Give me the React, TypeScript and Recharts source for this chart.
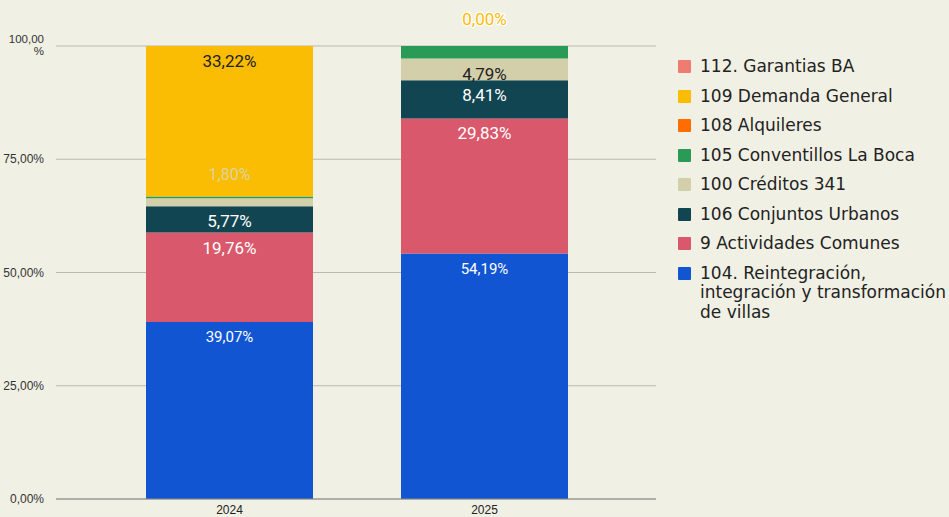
import { Bar, BarChart, CartesianGrid, LabelList, XAxis, YAxis } from "recharts";

const years = ["2024", "2025"];

const seriesNames = [
  "104. Reintegración, integración y transformación de villas",
  "9 Actividades Comunes",
  "106 Conjuntos Urbanos",
  "100 Créditos 341",
  "105 Conventillos La Boca",
  "108 Alquileres",
  "109 Demanda General",
  "112. Garantias BA",
];

const reintegracion = [39.07, 54.19];
const actividades = [19.76, 29.83];
const conjuntos = [5.77, 8.41];
const creditos = [1.8, 4.79];
const conventillos = [0.38, 2.76];
const alquileres = [0, 0.02];
const demanda = [33.22, 0];
const garantias = [0, 0];

const yTicks = [0, 25, 50, 75, 100];

const COLORS = ["#1155d2", "#d9586b", "#124552", "#d3cfab", "#2a9b57", "#ff6d00", "#fbbc04", "#f07b72"];
const LABEL_COLORS = ["#fff", "#fff", "#fff", "#222", "#fff", "#222", "#222", "#222"];
const keys = ["s0", "s1", "s2", "s3", "s4", "s5", "s6", "s7"];
const allValues = [reintegracion, actividades, conjuntos, creditos, conventillos, alquileres, demanda, garantias];

const data = years.map((year, i) => {
  const row: Record<string, string | number> = { year };
  allValues.forEach((vals, s) => (row[keys[s]] = vals[i]));
  return row;
});

const pct = (v: number) => v.toFixed(2).replace(".", ",") + "%";

function makeLabel(s: number) {
  return (props: any) => {
    const { x, y, width, value, index } = props;
    const v = Number(value);
    const cx = Number(x) + Number(width) / 2;
    const top = Number(y);
    if (s === 3 && index === 0) {
      return (
        <text x={cx} y={top - 18} textAnchor="middle" fill="#dcd49c" fontSize={16} fontFamily="Roboto">
          {pct(v)}
        </text>
      );
    }
    // 2025 "109 Demanda General" is 0%, its label sits above the top of the column
    if (s === 4 && index === 1) {
      return (
        <text x={cx} y={top - 21} textAnchor="middle" fill="#fbbc04" stroke="#fff" strokeWidth={2.5}
          paintOrder="stroke" fontSize={17} fontFamily="Roboto">
          {pct(demanda[1])}
        </text>
      );
    }
    if (v < 4) return null;
    const small = s === 0;
    return (
      <text x={cx} y={top + (small ? 20 : 21)} textAnchor="middle" fill={LABEL_COLORS[s]}
        fontSize={small ? 15 : 17} fontFamily="Roboto">
        {pct(v)}
      </text>
    );
  };
}

function YTick(props: any) {
  const { x, y, payload } = props;
  if (payload.value === 100) {
    return (
      <text x={x} y={y} textAnchor="end" fill="#333" fontSize={11.5} fontFamily="Liberation Sans, Arial">
        <tspan x={x} dy={-3}>100,00</tspan>
        <tspan x={x} dy={12}>%</tspan>
      </text>
    );
  }
  return (
    <text x={x} y={y + 4} textAnchor="end" fill="#333" fontSize={12} fontFamily="Liberation Sans, Arial">
      {pct(payload.value)}
    </text>
  );
}

const legendOrder = [7, 6, 5, 4, 3, 2, 1, 0];

export default function App() {
  return (
    <div style={{ position: "absolute", left: 0, top: 0, width: 949, height: 517, background: "#f1f0e4" }}>
      <BarChart width={949} height={517} data={data} margin={{ top: 46, right: 293, bottom: 0, left: 0 }}>
        <CartesianGrid vertical={false} stroke="#b9b9b0" />
        <XAxis dataKey="year" tickLine={false} axisLine={{ stroke: "#8a8a85" }} padding={{ left: 46, right: 44 }}
          tick={{ fill: "#222", fontSize: 12, fontFamily: "Liberation Sans, Arial", dy: 0 }} tickMargin={0} height={18} />
        <YAxis domain={[0, 100]} ticks={yTicks} width={56} axisLine={false} tickLine={false} tick={<YTick />}
          tickMargin={6} />
        {keys.map((k, s) => (
          <Bar key={k} dataKey={k} stackId="a" fill={COLORS[s]} barSize={167} isAnimationActive={false}>
            <LabelList dataKey={k} content={makeLabel(s)} />
          </Bar>
        ))}
      </BarChart>
      <div style={{ position: "absolute", left: 678, top: 55, fontFamily: "DejaVu Sans", fontSize: 17, color: "#222" }}>
        {legendOrder.map((s) => (
          <div key={s} style={{ display: "flex", alignItems: "flex-start", height: 29.5, width: 271 }}>
            <div style={{ width: 13, height: 13, background: COLORS[s], borderRadius: 1, marginTop: 5, marginRight: 9, flexShrink: 0 }} />
            <div style={{ lineHeight: "19.5px", marginTop: 2 }}>{seriesNames[s]}</div>
          </div>
        ))}
      </div>
    </div>
  );
}
